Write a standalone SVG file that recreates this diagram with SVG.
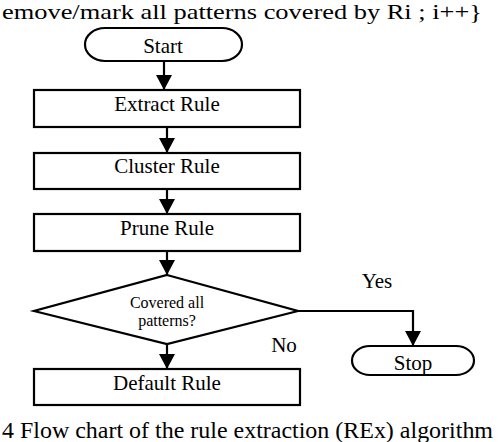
<svg xmlns="http://www.w3.org/2000/svg" width="498" height="442" viewBox="0 0 498 442">
<style>
.shape{fill:#fff;stroke:#000;stroke-width:2.2}
.t{font-family:"Liberation Serif","Times New Roman",serif;fill:#000;text-anchor:middle}
.lbl{font-size:21px}
.small{font-size:16px}
.conn{fill:none;stroke:#000;stroke-width:2.2}
</style>
<defs>
<marker id="ah" markerUnits="userSpaceOnUse" markerWidth="16" markerHeight="17" refX="15" refY="8" orient="auto">
<path d="M0,0 L15,8 L0,16 z" fill="#000"/>
</marker>
</defs>
<rect width="498" height="442" fill="#fff"/>
<text class="t" x="2" y="19" style="font-size:21px;text-anchor:start" textLength="480" lengthAdjust="spacingAndGlyphs">emove/mark all patterns covered by Ri ; i++}</text>
<g id="connectors">
<line class="conn" x1="164" y1="61" x2="164" y2="90" marker-end="url(#ah)"/>
<line class="conn" x1="167" y1="127" x2="167" y2="153" marker-end="url(#ah)"/>
<line class="conn" x1="167" y1="189" x2="167" y2="214" marker-end="url(#ah)"/>
<line class="conn" x1="167" y1="251" x2="167" y2="275" marker-end="url(#ah)"/>
<line class="conn" x1="167" y1="344" x2="167" y2="369" marker-end="url(#ah)"/>
<path class="conn" d="M298,311 H413 V346" marker-end="url(#ah)"/>
</g>
<g id="start">
<rect class="shape" x="85" y="28" width="157" height="33" rx="20" ry="16.5"/>
<text class="t lbl" x="163" y="53">Start</text>
</g>
<g id="extract">
<rect class="shape" x="34" y="90" width="266" height="37"/>
<text class="t lbl" x="167" y="111">Extract Rule</text>
</g>
<g id="cluster">
<rect class="shape" x="34" y="153" width="266" height="36"/>
<text class="t lbl" x="167" y="173">Cluster Rule</text>
</g>
<g id="prune">
<rect class="shape" x="34" y="214" width="266" height="37"/>
<text class="t lbl" x="167" y="235">Prune Rule</text>
</g>
<g id="decision">
<polygon class="shape" points="167,275 298,311 167,344 34,311"/>
<text class="t small" x="167" y="308">Covered all</text>
<text class="t small" x="167" y="326">patterns?</text>
</g>
<g id="default">
<rect class="shape" x="34" y="369" width="266" height="36"/>
<text class="t lbl" x="167" y="390">Default Rule</text>
</g>
<g id="stop">
<rect class="shape" x="352" y="346" width="122" height="29" rx="18" ry="14.5"/>
<text class="t lbl" x="413" y="370">Stop</text>
</g>
<text class="t lbl" x="377" y="288">Yes</text>
<text class="t lbl" x="284" y="352">No</text>
<text class="t" x="2" y="438" style="font-size:23px;text-anchor:start" textLength="491" lengthAdjust="spacingAndGlyphs">4 Flow chart of the rule extraction (REx) algorithm</text>
</svg>
